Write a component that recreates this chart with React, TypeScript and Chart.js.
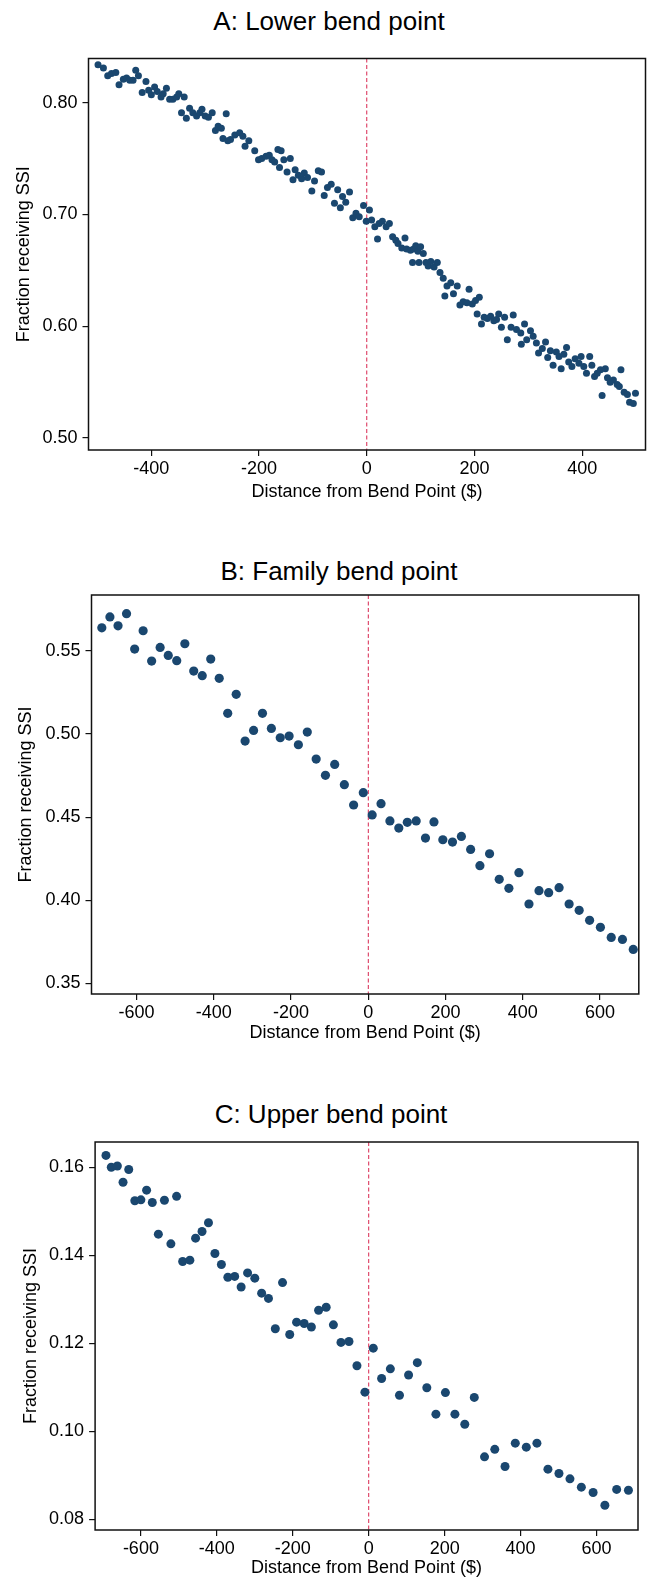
import React, { useEffect, useRef } from 'react';
import { Chart, registerables } from 'chart.js';

Chart.register(...registerables);

const FONT = '"Liberation Sans", Arial, Helvetica, sans-serif';
const NAVY = '#1a476f';
const CUTOFF_RED = '#d8264f';

// ---- Panel A: lower bend point ----
const lowerDist = [
  -499, -489, -481, -474, -466, -460, -452, -446, -440, -434, -429, -424, -417, -410, -405, -400,
  -394, -389, -382, -378, -372, -366, -360, -353, -349, -344, -339, -335, -329, -323, -316, -310,
  -306, -300, -294, -287, -281, -276, -270, -267, -261, -258, -253, -245, -236, -230, -226, -219,
  -208, -201, -195, -187, -181, -176, -171, -165, -162, -159, -154, -148, -142, -137, -133, -127,
  -121, -116, -110, -102, -97, -90, -84, -79, -73, -66, -60, -54, -49, -45, -39, -32,
  -26, -20, -14, -6, -1, 5, 9, 15, 20, 23, 29, 36, 42, 48, 54, 58,
  65, 71, 74, 81, 85, 87, 91, 95, 97, 100, 105, 110, 114, 119, 125, 131,
  136, 142, 145, 149, 156, 161, 168, 173, 179, 186, 190, 196, 202, 205, 209, 213,
  218, 224, 230, 236, 241, 245, 250, 256, 261, 268, 272, 278, 286, 287, 293, 297,
  304, 309, 315, 319, 326, 332, 336, 341, 346, 352, 357, 361, 366, 371, 375, 381,
  387, 394, 398, 403, 408, 414, 418, 423, 428, 434, 437, 443, 447, 452, 458, 465,
  469, 472, 478, 484, 488, 495, 499,
];
const lowerShare = [
  0.834, 0.831, 0.824, 0.826, 0.827, 0.816, 0.821, 0.822, 0.820, 0.820, 0.829, 0.824, 0.809, 0.819, 0.811, 0.807,
  0.814, 0.810, 0.805, 0.808, 0.813, 0.803, 0.803, 0.805, 0.808, 0.791, 0.805, 0.786, 0.795, 0.791, 0.788, 0.791,
  0.794, 0.788, 0.787, 0.791, 0.775, 0.779, 0.777, 0.768, 0.790, 0.766, 0.767, 0.771, 0.773, 0.770, 0.761, 0.766,
  0.757, 0.749, 0.750, 0.752, 0.753, 0.749, 0.747, 0.758, 0.742, 0.757, 0.749, 0.738, 0.750, 0.731, 0.740, 0.735,
  0.732, 0.737, 0.733, 0.721, 0.730, 0.739, 0.738, 0.717, 0.724, 0.727, 0.710, 0.722, 0.706, 0.716, 0.711, 0.720,
  0.697, 0.701, 0.698, 0.708, 0.694, 0.704, 0.695, 0.689, 0.678, 0.692, 0.694, 0.689, 0.692, 0.680, 0.677, 0.674,
  0.670, 0.679, 0.669, 0.668, 0.657, 0.669, 0.672, 0.667, 0.657, 0.671, 0.665, 0.657, 0.654, 0.658, 0.653, 0.657,
  0.648, 0.643, 0.627, 0.636, 0.639, 0.629, 0.636, 0.619, 0.622, 0.621, 0.633, 0.620, 0.623, 0.611, 0.626, 0.602,
  0.608, 0.607, 0.609, 0.605, 0.606, 0.611, 0.599, 0.608, 0.588, 0.599, 0.610, 0.597, 0.594, 0.584, 0.602, 0.588,
  0.596, 0.591, 0.585, 0.576, 0.580, 0.586, 0.572, 0.578, 0.565, 0.577, 0.573, 0.562, 0.575, 0.581, 0.568, 0.564,
  0.571, 0.567, 0.573, 0.564, 0.558, 0.573, 0.565, 0.555, 0.558, 0.561, 0.538, 0.562, 0.554, 0.550, 0.552, 0.548,
  0.546, 0.561, 0.541, 0.539, 0.532, 0.531, 0.540,
];
const lowerXTicks = [-400, -200, 0, 200, 400];
const lowerYTicks = [0.5, 0.6, 0.7, 0.8];
const lowerYLabels = ['0.50', '0.60', '0.70', '0.80'];

// ---- Panel B: family bend point ----
const familyDist = [
  -690, -669, -648, -626, -605, -583, -561, -539, -518, -496, -475, -452, -430, -408, -386, -364,
  -342, -319, -297, -274, -251, -228, -205, -181, -158, -135, -111, -87, -62, -38, -13, 10,
  33, 56, 79, 101, 124, 148, 170, 193, 218, 241, 265, 289, 314, 339, 364, 390,
  416, 442, 467, 494, 520, 546, 573, 601, 629, 658, 686,
];
const familyShare = [
  0.5638, 0.5703, 0.5650, 0.5723, 0.5510, 0.5620, 0.5438, 0.5520, 0.5472, 0.5440, 0.5542, 0.5378, 0.5350, 0.5450, 0.5334, 0.5124,
  0.5238, 0.4957, 0.5021, 0.5124, 0.5033, 0.4977, 0.4987, 0.4935, 0.5011, 0.4849, 0.4751, 0.4817, 0.4695, 0.4573, 0.4647, 0.4513,
  0.4581, 0.4477, 0.4434, 0.4469, 0.4477, 0.4374, 0.4471, 0.4364, 0.4350, 0.4384, 0.4306, 0.4208, 0.4280, 0.4126, 0.4072, 0.4166,
  0.3978, 0.4058, 0.4046, 0.4076, 0.3978, 0.3940, 0.3880, 0.3838, 0.3777, 0.3765, 0.3705,
];
const familyXTicks = [-600, -400, -200, 0, 200, 400, 600];
const familyYTicks = [0.35, 0.4, 0.45, 0.5, 0.55];
const familyYLabels = ['0.35', '0.40', '0.45', '0.50', '0.55'];

// ---- Panel C: upper bend point ----
const upperDist = [
  -692, -678, -662, -647, -632, -616, -600, -585, -570, -554, -538, -521, -506, -490, -471, -456,
  -439, -422, -405, -388, -371, -353, -336, -319, -300, -282, -264, -246, -227, -208, -190, -170,
  -151, -132, -112, -93, -73, -52, -31, -10, 12, 34, 57, 81, 105, 128,
  153, 177, 202, 227, 253, 278, 305, 332, 359, 386, 415, 443, 472, 501, 530, 560,
  591, 622, 653, 684,
];
const upperShare = [
  0.1627, 0.1600, 0.1603, 0.1566, 0.1595, 0.1524, 0.1526, 0.1548, 0.1520, 0.1448, 0.1525, 0.1426, 0.1534, 0.1386, 0.1389, 0.1439,
  0.1454, 0.1474, 0.1404, 0.1379, 0.1350, 0.1352, 0.1328, 0.1360, 0.1348, 0.1314, 0.1302, 0.1233, 0.1338, 0.1220, 0.1248, 0.1245,
  0.1237, 0.1275, 0.1282, 0.1242, 0.1202, 0.1204, 0.1149, 0.1089, 0.1189, 0.1120, 0.1142, 0.1082, 0.1128, 0.1156,
  0.1099, 0.1039, 0.1088, 0.1039, 0.1016, 0.1077, 0.0942, 0.0959, 0.0920, 0.0973, 0.0964, 0.0973, 0.0914, 0.0904, 0.0892, 0.0873,
  0.0861, 0.0832, 0.0868, 0.0866,
];
const upperXTicks = [-600, -400, -200, 0, 200, 400, 600];
const upperYTicks = [0.08, 0.1, 0.12, 0.14, 0.16];
const upperYLabels = ['0.08', '0.10', '0.12', '0.14', '0.16'];

const X_TITLE = 'Distance from Bend Point ($)';
const Y_TITLE = 'Fraction receiving SSI';
const PAGE_W = 649;

type PanelSpec = {
  title: string;
  xs: number[];
  ys: number[];
  xTicks: number[];
  yTicks: number[];
  yLabels: string[];
  xMin: number;
  xMax: number;
  yMin: number;
  yMax: number;
  canvasTop: number;
  canvasH: number;
  frameTop: number;
  frameBottom: number;
  frameLeft: number;
  frameRight: number;
  titleCx: number;
  titleCy: number;
  yTitleCx: number;
  xTitleCy: number;
  radius: number;
};

const panels: PanelSpec[] = [
  {
    title: 'A: Lower bend point',
    xs: lowerDist, ys: lowerShare, xTicks: lowerXTicks, yTicks: lowerYTicks, yLabels: lowerYLabels,
    xMin: -516.7, xMax: 517.6, yMin: 0.4893, yMax: 0.8395,
    canvasTop: 0, canvasH: 530, frameTop: 58.5, frameBottom: 450, frameLeft: 88.5, frameRight: 647,
    titleCx: 329, titleCy: 21, yTitleCx: 24, xTitleCy: 492, radius: 3.5,
  },
  {
    title: 'B: Family bend point',
    xs: familyDist, ys: familyShare, xTicks: familyXTicks, yTicks: familyYTicks, yLabels: familyYLabels,
    xMin: -716.7, xMax: 700.4, yMin: 0.3437, yMax: 0.5835,
    canvasTop: 530, canvasH: 530, frameTop: 595, frameBottom: 994, frameLeft: 91.5, frameRight: 638.8,
    titleCx: 339, titleCy: 571, yTitleCx: 26.5, xTitleCy: 1033, radius: 4.6,
  },
  {
    title: 'C: Upper bend point',
    xs: upperDist, ys: upperShare, xTicks: upperXTicks, yTicks: upperYTicks, yLabels: upperYLabels,
    xMin: -720.6, xMax: 709.2, yMin: 0.07757, yMax: 0.16575,
    canvasTop: 1060, canvasH: 520, frameTop: 1142, frameBottom: 1530, frameLeft: 95.1, frameRight: 638,
    titleCx: 331, titleCy: 1114, yTitleCx: 31.5, xTitleCy: 1568, radius: 4.5,
  },
];

// Box around the plot region plus the dashed cutoff line at zero.
const frameAndCutoff = {
  id: 'frameAndCutoff',
  beforeDatasetsDraw(chart: any) {
    const { ctx, chartArea, scales } = chart;
    const x0 = scales.x.getPixelForValue(0);
    ctx.save();
    ctx.strokeStyle = CUTOFF_RED;
    ctx.lineWidth = 1;
    ctx.setLineDash([4, 2.5]);
    ctx.beginPath();
    ctx.moveTo(x0, chartArea.top);
    ctx.lineTo(x0, chartArea.bottom);
    ctx.stroke();
    ctx.restore();
  },
  afterDatasetsDraw(chart: any) {
    const { ctx, chartArea } = chart;
    ctx.save();
    ctx.strokeStyle = '#111';
    ctx.lineWidth = 1.5;
    ctx.strokeRect(chartArea.left, chartArea.top, chartArea.right - chartArea.left, chartArea.bottom - chartArea.top);
    ctx.restore();
  },
};

function ScatterPanel({ spec }: { spec: PanelSpec }) {
  const ref = useRef<HTMLCanvasElement | null>(null);

  useEffect(() => {
    const canvas = ref.current;
    if (!canvas) return;
    const lh = 18 * 1.2;
    const canvasBottom = spec.canvasTop + spec.canvasH;
    const xAxisH = canvasBottom - spec.frameBottom;
    const xTitlePadBottom = canvasBottom - lh / 2 - spec.xTitleCy;
    const yTitlePadTop = spec.yTitleCx - lh / 2;

    const chart = new Chart(canvas, {
      type: 'scatter',
      data: {
        datasets: [
          {
            data: spec.xs.map((x, i) => ({ x, y: spec.ys[i] })),
            backgroundColor: NAVY,
            borderWidth: 0,
            pointRadius: spec.radius,
            pointHoverRadius: spec.radius,
          },
        ],
      },
      options: {
        responsive: false,
        animation: false,
        devicePixelRatio: 1,
        events: [],
        layout: {
          padding: {
            top: spec.frameTop - spec.canvasTop,
            right: PAGE_W - spec.frameRight,
            bottom: 0,
            left: 0,
          },
        },
        plugins: {
          legend: { display: false },
          tooltip: { enabled: false },
          title: { display: false },
        },
        scales: {
          x: {
            type: 'linear',
            min: spec.xMin,
            max: spec.xMax,
            afterBuildTicks: (scale: any) => {
              scale.ticks = spec.xTicks.map((v) => ({ value: v }));
            },
            afterFit: (scale: any) => {
              scale.height = xAxisH;
            },
            border: { display: false },
            grid: {
              display: true,
              drawOnChartArea: false,
              drawTicks: true,
              tickLength: 6,
              color: '#111',
              lineWidth: 1.2,
            },
            ticks: {
              color: '#000',
              font: { family: FONT, size: 18 },
              padding: 2.5,
              maxRotation: 0,
              autoSkip: false,
              callback: (v: any) => String(v),
            },
            title: {
              display: true,
              text: X_TITLE,
              color: '#000',
              font: { family: FONT, size: 18 },
              padding: { top: 0, bottom: xTitlePadBottom },
            },
          },
          y: {
            type: 'linear',
            min: spec.yMin,
            max: spec.yMax,
            afterBuildTicks: (scale: any) => {
              scale.ticks = spec.yTicks.map((v) => ({ value: v }));
            },
            afterFit: (scale: any) => {
              scale.width = spec.frameLeft;
            },
            border: { display: false },
            grid: {
              display: true,
              drawOnChartArea: false,
              drawTicks: true,
              tickLength: 6,
              color: '#111',
              lineWidth: 1.2,
            },
            ticks: {
              color: '#000',
              font: { family: FONT, size: 18 },
              padding: 5,
              autoSkip: false,
              callback: (v: any) => {
                const i = spec.yTicks.findIndex((t) => Math.abs(t - Number(v)) < 1e-9);
                return i >= 0 ? spec.yLabels[i] : '';
              },
            },
            title: {
              display: true,
              text: Y_TITLE,
              color: '#000',
              font: { family: FONT, size: 18 },
              padding: { top: yTitlePadTop, bottom: 0 },
            },
          },
        },
      },
      plugins: [frameAndCutoff],
    } as any);

    return () => chart.destroy();
  }, [spec]);

  return (
    <>
      <div
        style={{
          position: 'absolute',
          left: spec.titleCx - 250,
          top: spec.titleCy - 15,
          width: 500,
          height: 30,
          lineHeight: '30px',
          textAlign: 'center',
          fontFamily: FONT,
          fontSize: 26,
          color: '#000',
          whiteSpace: 'nowrap',
        }}
      >
        {spec.title}
      </div>
      <canvas
        ref={ref}
        width={PAGE_W}
        height={spec.canvasH}
        style={{
          position: 'absolute',
          left: 0,
          top: spec.canvasTop,
          width: PAGE_W,
          height: spec.canvasH,
        }}
      />
    </>
  );
}

export default function App() {
  return (
    <div
      style={{
        position: 'absolute',
        left: 0,
        top: 0,
        width: PAGE_W,
        height: 1580,
        background: '#fff',
        overflow: 'hidden',
      }}
    >
      {panels.map((p) => (
        <ScatterPanel key={p.title} spec={p} />
      ))}
    </div>
  );
}
